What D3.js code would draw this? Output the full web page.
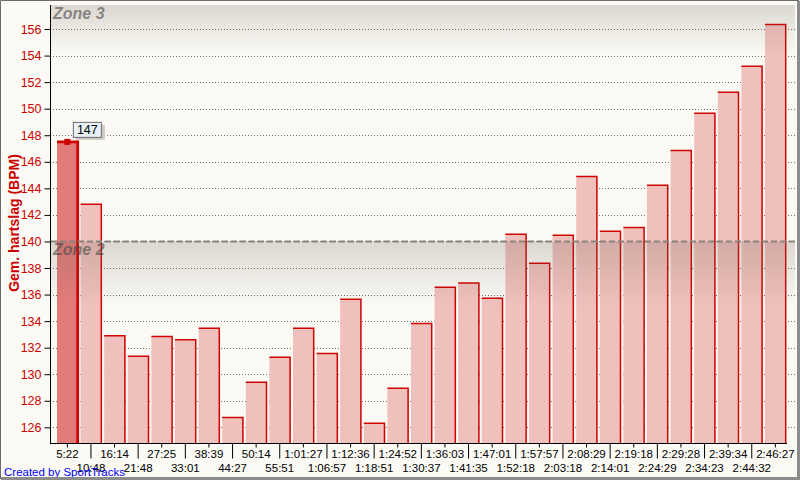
<!DOCTYPE html>
<html><head><meta charset="utf-8">
<script src="https://cdn.jsdelivr.net/npm/d3@7"></script>
<style>
html,body{margin:0;padding:0;background:#fbfaf5;}
svg{display:block;font-family:"Liberation Sans",Arial,sans-serif;}
</style></head>
<body><svg id="c" width="800" height="480"></svg>
<script>
const labels = ["5:22","10:48","16:14","21:48","27:25","33:01","38:39","44:27","50:14","55:51","1:01:27","1:06:57","1:12:36","1:18:51","1:24:52","1:30:37","1:36:03","1:41:35","1:47:01","1:52:18","1:57:57","2:03:18","2:08:29","2:14:01","2:19:18","2:24:29","2:29:28","2:34:23","2:39:34","2:44:32","2:46:27"];
const values = [147.5,142.8,132.9,131.35,132.85,132.6,133.46,126.75,129.39,131.27,133.46,131.57,135.64,126.3,128.94,133.83,136.55,136.87,135.72,140.54,138.35,140.46,144.9,140.76,141.06,144.23,146.86,149.65,151.23,153.19,156.35];
const yTicks = [126,128,130,132,134,136,138,140,142,144,146,148,150,152,154,156];
const zones = [{name:"Zone 3", from:157.81}, {name:"Zone 2", from:140}];
const selectedIndex = 0;
const tooltipText = "147";
const yTitle = "Gem. hartslag (BPM)";
const credit = "Created by SportTracks";

const svg = d3.select("#c");
const L = 50, R = 795, T = 5, B = 443;
const y = d3.scaleLinear().domain([124.82, 157.81]).range([B, T]);
const x = d3.scaleBand().domain(labels).range([55.5, 787.2]).paddingInner(0.123).paddingOuter(0.0636);

svg.append("rect").attr("x",0).attr("y",0).attr("width",800).attr("height",480).attr("fill","#fbfaf5");

const defs = svg.append("defs");
const g = defs.append("linearGradient").attr("id","zg").attr("x1",0).attr("y1",0).attr("x2",0).attr("y2",1);
g.append("stop").attr("offset","0%").attr("stop-color","rgb(110,95,80)").attr("stop-opacity",0.22);
g.append("stop").attr("offset","100%").attr("stop-color","rgb(110,95,80)").attr("stop-opacity",0);

svg.append("g").selectAll("line").data(yTicks).join("line")
  .attr("x1",L).attr("x2",R)
  .attr("y1",d=>Math.round(y(d))+0.5).attr("y2",d=>Math.round(y(d))+0.5)
  .attr("stroke","#707070").attr("stroke-width",1).attr("stroke-dasharray","1,2");

const bars = svg.append("g");
bars.selectAll("rect").data(values).join("rect")
  .attr("x",(d,i)=>x(labels[i]))
  .attr("y",d=>y(d))
  .attr("width",x.bandwidth())
  .attr("height",d=>B-y(d))
  .attr("fill",(d,i)=>i===selectedIndex?"#e27c7a":"#f0c0bd");
bars.selectAll("path").data(values).join("path")
  .attr("d",(d,i)=>{const x0=x(labels[i]), x1=x0+x.bandwidth(), yy=y(d);
     return `M${x0},${yy}H${x1}V${B}`;})
  .attr("fill","none").attr("stroke","#d00000")
  .attr("stroke-width",(d,i)=>i===selectedIndex?2.8:1.5);

const bandH = [50, 65];
zones.forEach((z,k)=>{
  const yy = Math.max(T, y(z.from));
  svg.append("rect").attr("x",L+1).attr("y",yy).attr("width",R-L-1).attr("height",bandH[k]).attr("fill","url(#zg)");
});
svg.append("line").attr("x1",L+1).attr("x2",R).attr("y1",y(zones[1].from)).attr("y2",y(zones[1].from))
  .attr("stroke","#8a837c").attr("stroke-width",2).attr("stroke-dasharray","6,3");
zones.forEach(z=>{
  const yy = Math.max(T, y(z.from));
  svg.append("text").attr("x",53).attr("y",yy+13.5).text(z.name)
    .attr("font-size",16).attr("font-weight","bold").attr("font-style","italic")
    .attr("fill","rgba(70,70,70,0.6)");
});

const ya = svg.append("g").attr("transform",`translate(${L+0.5},0)`)
  .call(d3.axisLeft(y).tickValues(yTicks).tickFormat(d3.format("d")).tickSize(6).tickPadding(3));
ya.select(".domain").remove();
ya.selectAll(".tick line").attr("stroke","#000");
ya.selectAll(".tick text").attr("fill","#cc0000").attr("font-size",12.5).attr("font-family","Liberation Sans, Arial");
svg.append("line").attr("x1",L+0.5).attr("x2",L+0.5).attr("y1",T).attr("y2",B+1).attr("stroke","#000");

const xa = svg.append("g").attr("transform",`translate(0,${B+0.5})`)
  .call(d3.axisBottom(x).tickSize(4).tickPadding(4));
xa.select(".domain").remove();
xa.selectAll(".tick line").attr("stroke","#000").attr("y2",(d,i)=>i%2?15:4);
xa.selectAll(".tick text").attr("fill","#000").attr("font-size",11.5).attr("font-family","Liberation Sans, Arial")
  .attr("dy",0).attr("y",(d,i)=>i%2?28.5:14);
svg.append("line").attr("x1",L).attr("x2",787).attr("y1",B+0.5).attr("y2",B+0.5).attr("stroke","#000");

svg.append("text").attr("transform",`translate(19,${223}) rotate(-90)`).attr("text-anchor","middle")
  .attr("fill","#cc0000").attr("font-size",14).attr("font-weight","bold").text(yTitle);

const sx = x(labels[selectedIndex]) + x.bandwidth()/2, sy = y(values[selectedIndex]);
svg.append("rect").attr("x",sx-3).attr("y",sy-3).attr("width",6).attr("height",6).attr("fill","#cc0000");
const tx = sx+5.5, ty = sy-20;
svg.append("rect").attr("x",tx+3).attr("y",ty+3).attr("width",29).attr("height",15).attr("fill","#cfcbc4");
svg.append("rect").attr("x",tx+0.5).attr("y",ty+0.5).attr("width",28).attr("height",15).attr("fill","#e8f0f8").attr("stroke","#6a6a6a");
svg.append("text").attr("x",tx+14.5).attr("y",ty+12.5).attr("text-anchor","middle").attr("font-size",12.5).attr("fill","#000").text(tooltipText);

svg.append("text").attr("x",4).attr("y",476).attr("font-size",11.5).attr("fill","#0000ff").text(credit);

svg.append("path").attr("d","M0.5,479V0.5H799").attr("fill","none").attr("stroke","#6b6b6b");
svg.append("path").attr("d","M1,478.5H798.5V1").attr("fill","none").attr("stroke","#8c8c8c").attr("stroke-width",3);
</script></body></html>
